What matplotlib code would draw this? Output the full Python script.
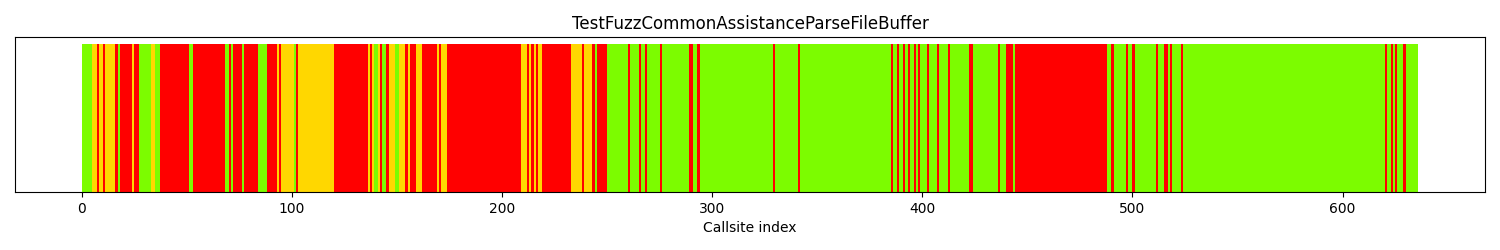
import numpy as np
import matplotlib
matplotlib.use("Agg")
import matplotlib.pyplot as plt

# Callsite coverage status as runs of (status, count): G = hit, Y = partly hit, R = not hit
runs = [('G', 5), ('Y', 2), ('R', 1), ('Y', 2), ('R', 1), ('Y', 5), ('R', 1), ('G', 1),
        ('R', 6), ('Y', 1), ('R', 2), ('G', 6), ('Y', 2), ('G', 2), ('R', 14), ('G', 2),
        ('R', 15), ('G', 2), ('R', 1), ('G', 1), ('R', 4), ('G', 1), ('R', 7), ('G', 4),
        ('R', 5), ('Y', 1), ('R', 1), ('Y', 6), ('G', 1), ('R', 1), ('Y', 17), ('R', 16),
        ('Y', 1), ('R', 1), ('Y', 1), ('G', 2), ('Y', 1), ('R', 1), ('G', 2), ('R', 1),
        ('Y', 3), ('G', 2), ('Y', 3), ('R', 1), ('Y', 1), ('R', 3), ('Y', 3), ('R', 7),
        ('Y', 1), ('R', 1), ('Y', 3), ('R', 35), ('Y', 3), ('R', 1), ('Y', 1), ('R', 1),
        ('Y', 1), ('R', 1), ('Y', 2), ('R', 14), ('Y', 5), ('R', 1), ('Y', 4), ('R', 1),
        ('G', 1), ('R', 5), ('G', 10), ('R', 1), ('G', 4), ('R', 1), ('G', 2), ('R', 1),
        ('G', 6), ('R', 1), ('G', 13), ('R', 2), ('G', 2), ('R', 1), ('G', 35), ('R', 1),
        ('G', 11), ('R', 1), ('G', 43), ('R', 1), ('G', 2), ('R', 1), ('G', 2), ('R', 1),
        ('G', 1), ('R', 1), ('G', 2), ('R', 1), ('G', 1), ('R', 1), ('G', 3), ('R', 1),
        ('G', 4), ('R', 1), ('G', 4), ('R', 1), ('G', 9), ('R', 2), ('G', 12), ('R', 1),
        ('G', 3), ('R', 3), ('G', 1), ('R', 44), ('G', 2), ('R', 1), ('G', 6), ('R', 1),
        ('G', 2), ('R', 1), ('G', 10), ('R', 1), ('G', 3), ('R', 2), ('G', 1), ('R', 1),
        ('G', 4), ('R', 1), ('G', 96), ('R', 1), ('G', 2), ('R', 1), ('G', 1), ('R', 1),
        ('G', 3), ('R', 1), ('G', 6)]

status_colors = {'G': 'lawngreen', 'Y': 'gold', 'R': 'red'}

status = np.repeat([s for s, n in runs], [n for s, n in runs])
x = np.arange(len(status))
colors = [status_colors[s] for s in status]
print(len(status))

fig, ax = plt.subplots(figsize=(15, 2.5), dpi=100)
ax.bar(x, np.ones(len(x)), width=1.0, align='edge', color=colors, linewidth=0)
ax.set_title("TestFuzzCommonAssistanceParseFileBuffer")
ax.set_xlabel("Callsite index")
ax.set_yticks([])
fig.subplots_adjust(left=0.01, right=0.99, top=0.852, bottom=0.232)
plt.savefig("out.png")
